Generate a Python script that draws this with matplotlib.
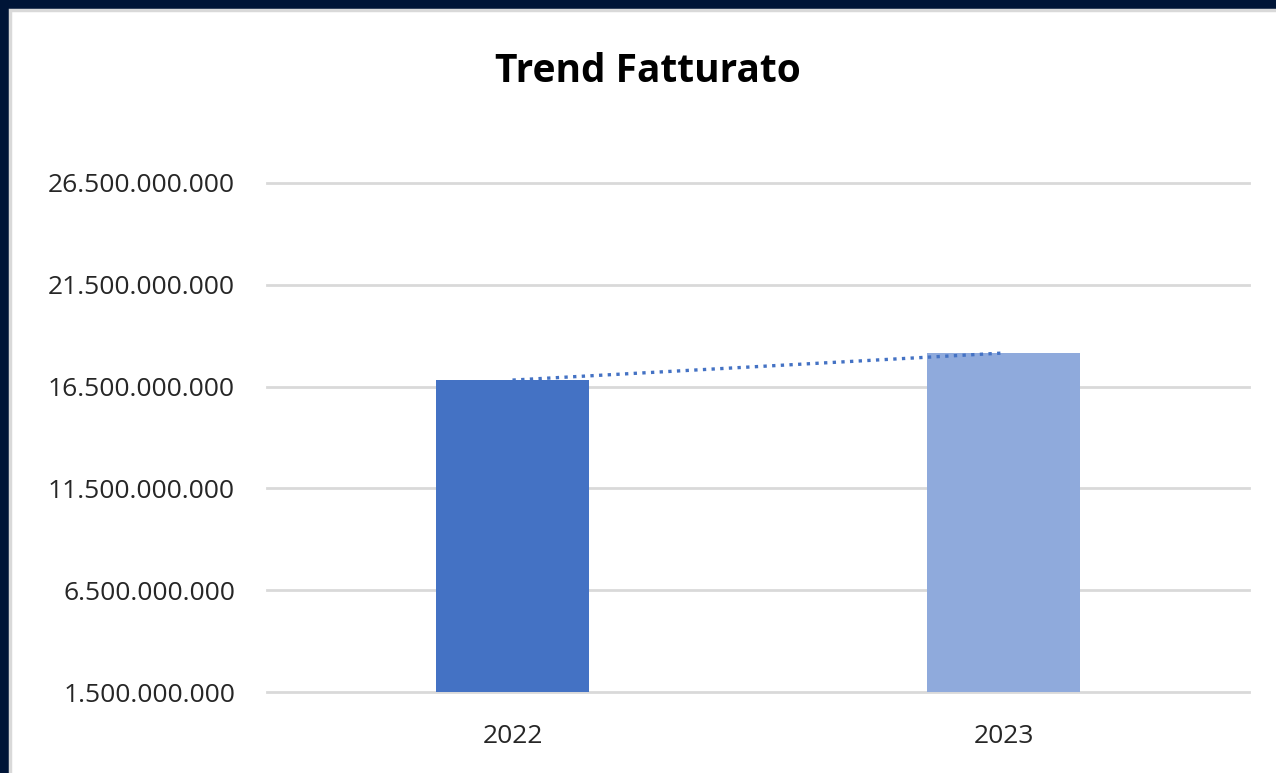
import matplotlib.pyplot as plt
from matplotlib.patches import Rectangle
from matplotlib.ticker import FuncFormatter

years = ["2022", "2023"]
fatturato = [16_820_000_000, 18_150_000_000]
bar_colors = ["#4472C4", "#8FAADC"]
y_ticks = [1_500_000_000, 6_500_000_000, 11_500_000_000,
           16_500_000_000, 21_500_000_000, 26_500_000_000]

plt.rcParams['font.family'] = ['Open Sans', 'DejaVu Sans']

W, H = 1276, 773
fig = plt.figure(figsize=(W / 100, H / 100), dpi=100)
fig.patch.set_facecolor("#001537")
# white chart area with thin gray frame (right/bottom edges run off the picture)
fig.patches.append(Rectangle((9.5 / W, -0.05), 1.1, 1.05 - 10.5 / H, transform=fig.transFigure,
                             facecolor="white", edgecolor="#D9D9D9", linewidth=2.5, zorder=0))

ax = fig.add_axes([267 / W, 1 - 692 / H, (1249 - 267) / W, (692 - 183) / H])
ax.set_zorder(2)
ax.set_facecolor("none")

x = list(range(len(years)))
ax.bar(x, fatturato, width=0.31, color=bar_colors, zorder=2)
ax.plot(x, fatturato, linestyle=(0, (1, 1.6)), color="#4472C4", linewidth=2.4, zorder=3)

ax.set_xlim(-0.5, 1.5)
ax.set_ylim(y_ticks[0], y_ticks[-1])
ax.set_yticks(y_ticks)
ax.yaxis.set_major_formatter(FuncFormatter(lambda v, p: f"{int(v):,}".replace(",", ".")))
ax.set_xticks(x)
ax.set_xticklabels(years)
ax.grid(axis="y", color="#D9D9D9", linewidth=2, zorder=0)
for gl in ax.get_ygridlines():
    gl.set_clip_on(False)
for s in ax.spines.values():
    s.set_visible(False)
ax.tick_params(length=0, labelsize=19, colors="#262626")
ax.tick_params(axis="y", pad=23)
ax.tick_params(axis="x", pad=23)

fig.text(648 / W, 1 - 71 / H, "Trend Fatturato", ha="center", va="center",
         fontsize=28, fontweight="bold", color="black", zorder=3)

fig.savefig("out.png", dpi=100, facecolor=fig.get_facecolor())
